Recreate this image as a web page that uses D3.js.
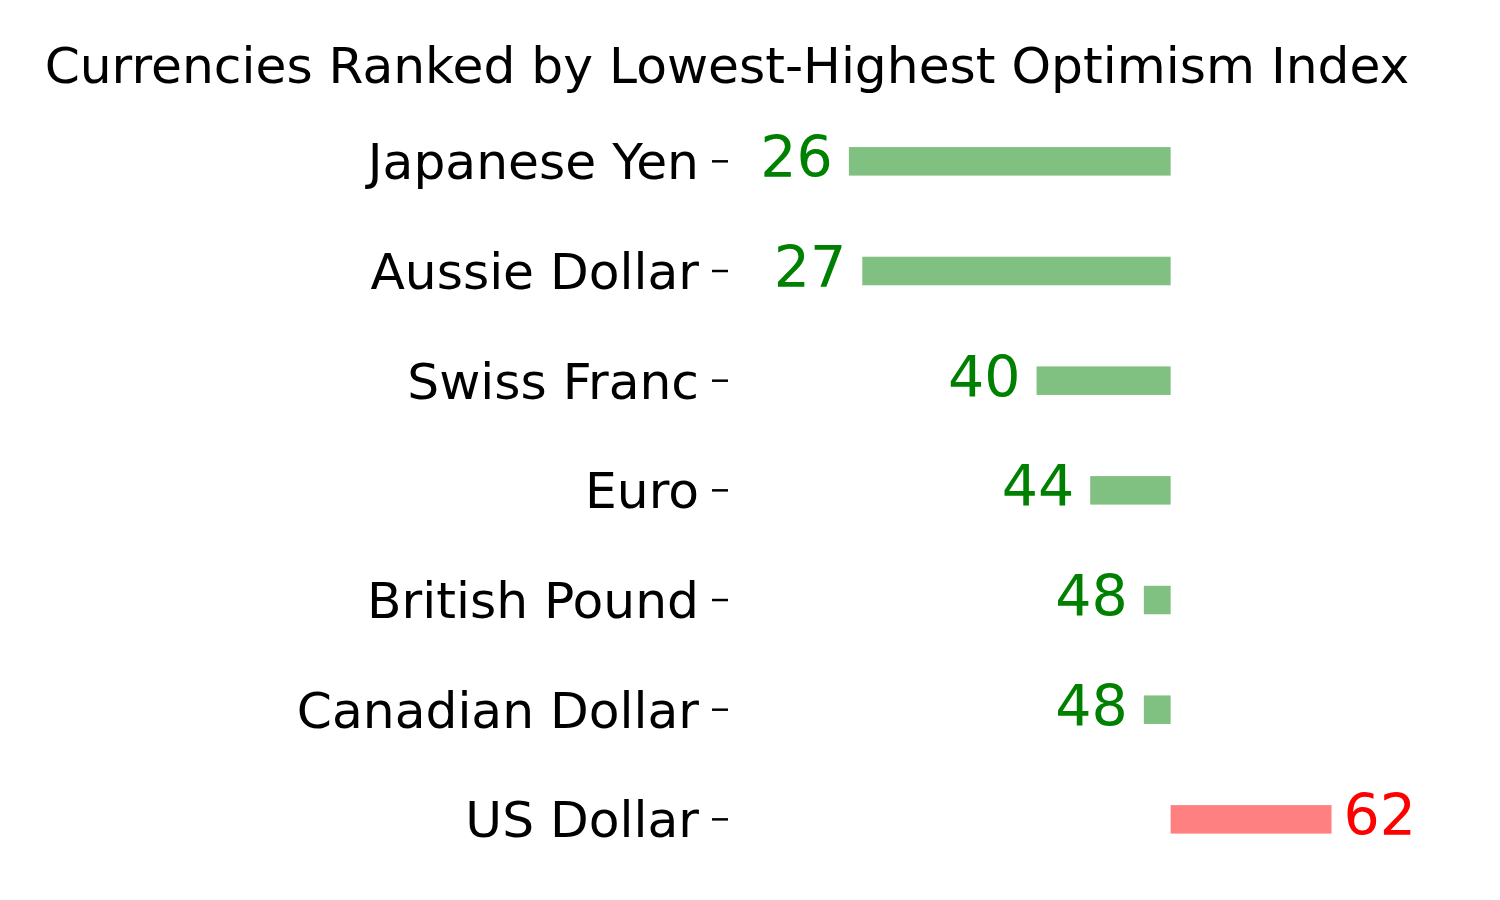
<!DOCTYPE html>
<html>
<head>
<meta charset="utf-8">
<script src="https://cdn.jsdelivr.net/npm/d3@7"></script>
<style>
    body { margin: 0; background: #fff; }
    svg { display: block; font-family: "DejaVu Sans", sans-serif; }
</style>
</head>
<body>
<div class="charts-div"></div>
<script>
const currencies = ["Japanese Yen", "Aussie Dollar", "Swiss Franc", "Euro", "British Pound", "Canadian Dollar", "US Dollar"];
const optimism = [26, 27, 40, 44, 48, 48, 62];
const midpoint = 50;

const width = 1500,
    height = 900;

const svg = d3.select(".charts-div").append("svg").attr("width", width).attr("height", height);

const x = d3.scaleLinear().domain([0, 100]).range([500.3, 1841]);

const y = d3.scaleBand().domain(currencies).range([106.5, 874.2]);

const barH = y.bandwidth() * 0.26;
const isLow = (v) => v < midpoint;

// title
svg.append("text")
    .attr("x", 727)
    .attr("y", 83)
    .attr("text-anchor", "middle")
    .attr("font-size", 50.3)
    .attr("fill", "#000")
    .text("Currencies Ranked by Lowest-Highest Optimism Index");

// y axis, ticks only
const yAxis = svg.append("g")
    .attr("transform", "translate(728,0)")
    .call(d3.axisLeft(y).tickSize(16).tickPadding(13));

yAxis.select(".domain").remove();
yAxis.selectAll(".tick line").attr("stroke", "#000").attr("stroke-width", 2.5);
yAxis.selectAll(".tick text")
    .attr("font-size", 50.3)
    .attr("font-family", "DejaVu Sans, sans-serif")
    .attr("fill", "#000")
    .attr("dy", "0.36em");

const rows = currencies.map((c, i) => ({ name: c, value: optimism[i] }));

svg.selectAll("rect.bar")
    .data(rows)
    .enter()
    .append("rect")
    .attr("class", "bar")
    .attr("x", (d) => x(Math.min(d.value, midpoint)))
    .attr("width", (d) => Math.abs(x(d.value) - x(midpoint)))
    .attr("y", (d) => y(d.name) + y.bandwidth() / 2 - barH / 2)
    .attr("height", barH)
    .attr("fill", (d) => (isLow(d.value) ? "#80c080" : "#ff8080"));

svg.selectAll("text.val")
    .data(rows)
    .enter()
    .append("text")
    .attr("class", "val")
    .attr("x", (d) => (isLow(d.value) ? x(d.value) - 16 : x(d.value) + 12))
    .attr("y", (d) => y(d.name) + y.bandwidth() / 2)
    .attr("dy", "0.28em")
    .attr("text-anchor", (d) => (isLow(d.value) ? "end" : "start"))
    .attr("font-size", 57)
    .attr("fill", (d) => (isLow(d.value) ? "#008000" : "#ff0000"))
    .text((d) => d.value);
</script>
</body>
</html>
